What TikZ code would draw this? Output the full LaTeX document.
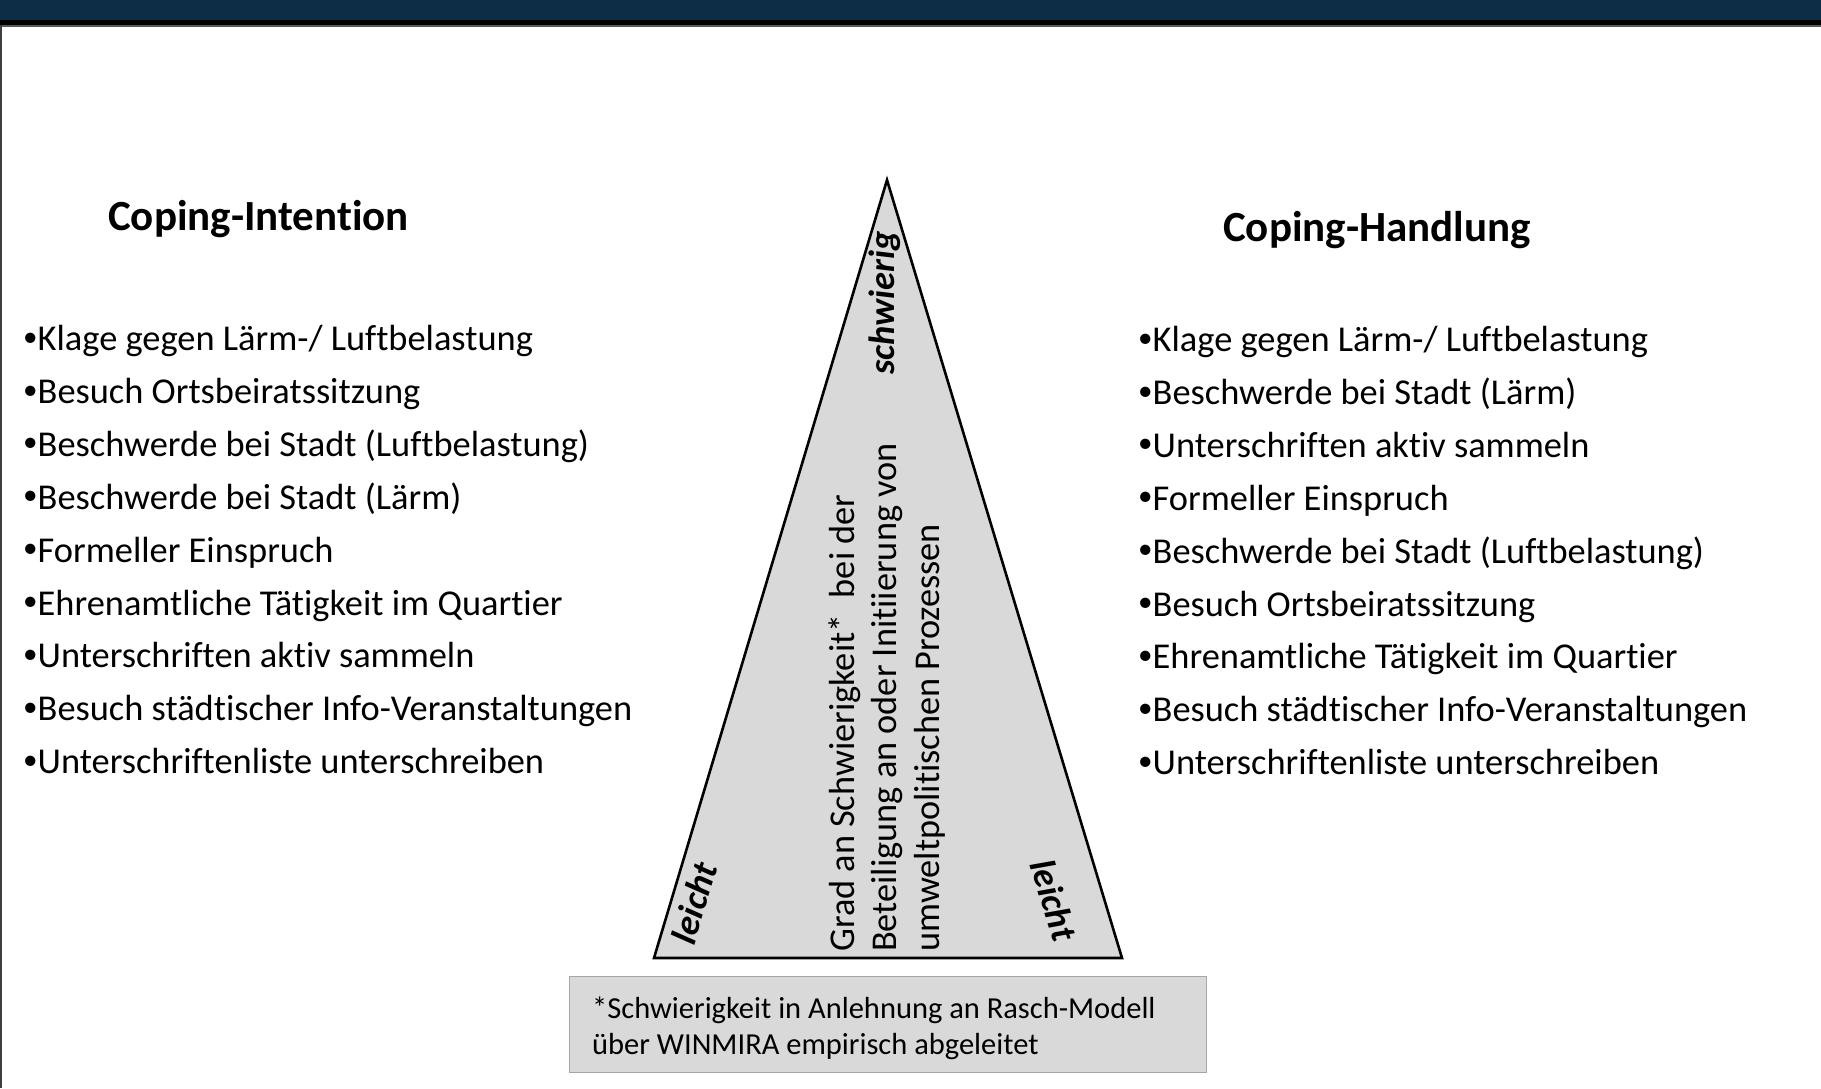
\documentclass[tikz,border=0pt]{standalone}
\usepackage{fontspec}
\setmainfont{Carlito}[Ligatures={TeX,CommonOff}]
\definecolor{barnavy}{HTML}{0D2D47}
\definecolor{pyrgray}{HTML}{D9D9D9}
\definecolor{boxedge}{HTML}{A6A6A6}
\newcommand{\fsz}[1]{\fontsize{#1pt}{1.2\dimexpr#1pt\relax}\selectfont}
\newcommand{\itemdot}{\raisebox{0.12em}{\scalebox{0.8}{•}}}
\begin{document}
\begin{tikzpicture}[x=1pt,y=-1pt,
  heading/.style={anchor=base west,inner sep=0pt,font=\fsz{43}\bfseries},
  item/.style={anchor=base west,inner sep=0pt,font=\fsz{36.4}},
  tag/.style={inner sep=0pt,font=\fsz{36.5}\bfseries\itshape},
  axis/.style={inner sep=0pt,font=\fontsize{36.3pt}{42.4pt}\selectfont,align=left}]
% page and frame
\useasboundingbox (0,0) rectangle (1821,1088);
\fill[white] (0,0) rectangle (1821,1088);
\fill[barnavy] (0,0) rectangle (1821,20);
\fill[black] (0,20) rectangle (1821,25);
\fill[black!65] (0,25) rectangle (1821,26.5);
\fill[black!75] (0,25) rectangle (1.6,1088);

% pyramid
\coordinate (apex) at (887,180);
\coordinate (bl) at (654,958);
\coordinate (br) at (1122,958);
\draw[line width=2.6pt,fill=pyrgray,line join=miter] (apex) -- (bl) -- (br) -- cycle;

\node[tag,rotate=90] (hard) at (885,303) {schwierig};
\node[tag,rotate=73] (easyl) at (694,903) {leicht};
\node[tag,rotate=-73] (easyr) at (1054,900) {leicht};
\node[axis,rotate=90,anchor=west] (scale) at (887,952)
  {Grad an Schwierigkeit*\ \ bei der\\Beteiligung an oder Initiierung von\\umweltpolitischen Prozessen};

% headings
\node[heading] (hl) at (108,230.5) {Coping-Intention};
\node[heading] (hr) at (1223,241.5) {Coping-Handlung};

% left list
\foreach \t [count=\i from 0] in {%
  Klage gegen Lärm-/ Luftbelastung,
  Besuch Ortsbeiratssitzung,
  Beschwerde bei Stadt (Luftbelastung),
  Beschwerde bei Stadt (Lärm),
  Formeller Einspruch,
  Ehrenamtliche Tätigkeit im Quartier,
  Unterschriften aktiv sammeln,
  Besuch städtischer Info-Veranstaltungen,
  Unterschriftenliste unterschreiben}
  \node[item] (li\i) at (23,{350.5+52.9*\i}) {\itemdot\t};

% right list
\foreach \t [count=\i from 0] in {%
  Klage gegen Lärm-/ Luftbelastung,
  Beschwerde bei Stadt (Lärm),
  Unterschriften aktiv sammeln,
  Formeller Einspruch,
  Beschwerde bei Stadt (Luftbelastung),
  Besuch Ortsbeiratssitzung,
  Ehrenamtliche Tätigkeit im Quartier,
  Besuch städtischer Info-Veranstaltungen,
  Unterschriftenliste unterschreiben}
  \node[item] (ri\i) at (1138,{351.5+52.9*\i}) {\itemdot\t};

% footnote box
\node[draw=boxedge,fill=pyrgray,line width=1pt,minimum width=637pt,minimum height=96pt,inner sep=0pt] (note) at (887.5,1024) {};
\node[anchor=north west,inner sep=0pt,align=left,font=\fontsize{30.5pt}{36pt}\selectfont] (notetext) at (592,997)
  {*Schwierigkeit in Anlehnung an Rasch-Modell\\über WINMIRA empirisch abgeleitet};
\end{tikzpicture}
\end{document}
